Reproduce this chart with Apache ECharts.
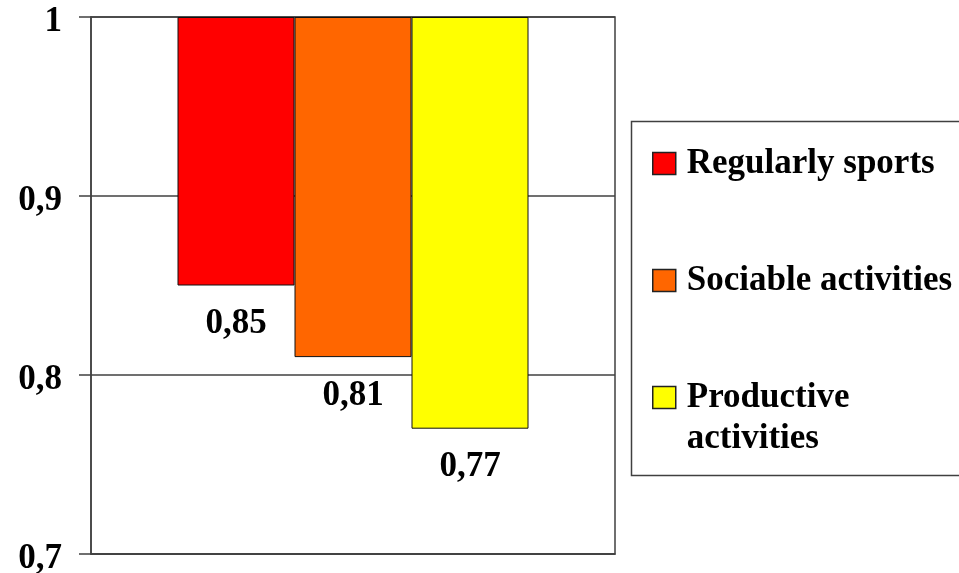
<!DOCTYPE html>
<html>
<head>
<meta charset="utf-8">
<style>
    html, body { margin: 0; padding: 0; background: #fff; }
    #activity-chart { width: 959px; height: 573px; }
</style>
</head>
<body>
<div id="activity-chart"></div>
<script src="https://cdn.jsdelivr.net/npm/echarts@6/dist/echarts.min.js"></script>
<script>
    var activityNames = ['Regularly sports', 'Sociable activities', 'Productive activities'];
    var activityValues = [0.85, 0.81, 0.77];
    var activityColors = ['#ff0000', '#ff6600', '#ffff00'];
    var yTicks = [0.7, 0.8, 0.9, 1];
    var axisTop = 1;

    var serif = '"Liberation Serif", "Times New Roman", serif';
    var fmt = function (v) {
        return String(Math.round(v * 100) / 100).replace('.', ',');
    };

    var series = [];
    activityNames.forEach(function (name, i) {
        // invisible part from the axis bottom up to the value, carries the label
        series.push({
            name: name + ' base',
            type: 'bar',
            stack: 's' + i,
            silent: true,
            barWidth: 117,
            barGap: '0%',
            data: [activityValues[i]],
            itemStyle: {color: 'rgba(0,0,0,0)'},
            label: {
                show: true,
                position: 'insideTop',
                distance: 21,
                formatter: function (p) { return fmt(p.value); },
                color: '#000',
                fontFamily: serif,
                fontWeight: 'bold',
                fontSize: 35
            }
        });
        // visible bar hanging from the top of the axis
        series.push({
            name: name,
            type: 'bar',
            stack: 's' + i,
            barWidth: 117,
            barGap: '0%',
            data: [axisTop - activityValues[i]],
            itemStyle: {color: activityColors[i], borderColor: '#111', borderWidth: 1}
        });
    });

    var myChart = echarts.init(document.getElementById('activity-chart'));
    var option = {
        animation: false,
        backgroundColor: '#fff',
        grid: {
            left: 91, top: 17, width: 524, height: 537,
            outerBoundsMode: 'none',
            show: true, borderColor: '#404040', borderWidth: 1.5
        },
        legend: {
            orient: 'vertical',
            left: 652,
            top: 102,
            padding: 0,
            itemWidth: 23,
            itemHeight: 22,
            itemGap: -6,
            icon: 'rect',
            itemStyle: {borderColor: '#222', borderWidth: 1.5},
            formatter: function (name) {
                if (name === 'Productive activities') {
                    return '{a|Productive}\n{a|activities}';
                }
                return '{a|' + name + '}';
            },
            textStyle: {
                padding: [41, 0, 41, 6],
                lineHeight: 41,
                rich: {
                    a: {fontFamily: serif, fontWeight: 'bold', fontSize: 35, color: '#000', lineHeight: 41}
                }
            },
            data: [
                {name: activityNames[0]},
                {name: activityNames[1]},
                {name: activityNames[2], textStyle: {padding: [41, 0, 0, 6]}}
            ]
        },
        graphic: [{
            type: 'rect',
            left: 629, top: 119,
            shape: {width: 400, height: 354},
            style: {fill: 'none', stroke: '#404040', lineWidth: 1.5},
            z: -1
        }],
        xAxis: {
            type: 'category',
            data: [''],
            axisLine: {show: true, lineStyle: {color: '#404040', width: 1.5}},
            axisTick: {show: false},
            axisLabel: {show: false}
        },
        yAxis: {
            type: 'value',
            min: yTicks[0],
            max: yTicks[yTicks.length - 1],
            interval: 0.1,
            axisLine: {show: true, lineStyle: {color: '#404040', width: 1.5}},
            axisTick: {show: true, length: 12, lineStyle: {color: '#404040', width: 1.5}},
            splitLine: {show: true, lineStyle: {color: '#404040', width: 1.5}},
            axisLabel: {
                margin: 29,
                color: '#000',
                fontFamily: serif,
                fontWeight: 'bold',
                fontSize: 35,
                verticalAlign: 'top',
                lineHeight: 10,
                formatter: fmt
            }
        },
        series: series
    };
    myChart.setOption(option);
</script>
</body>
</html>
